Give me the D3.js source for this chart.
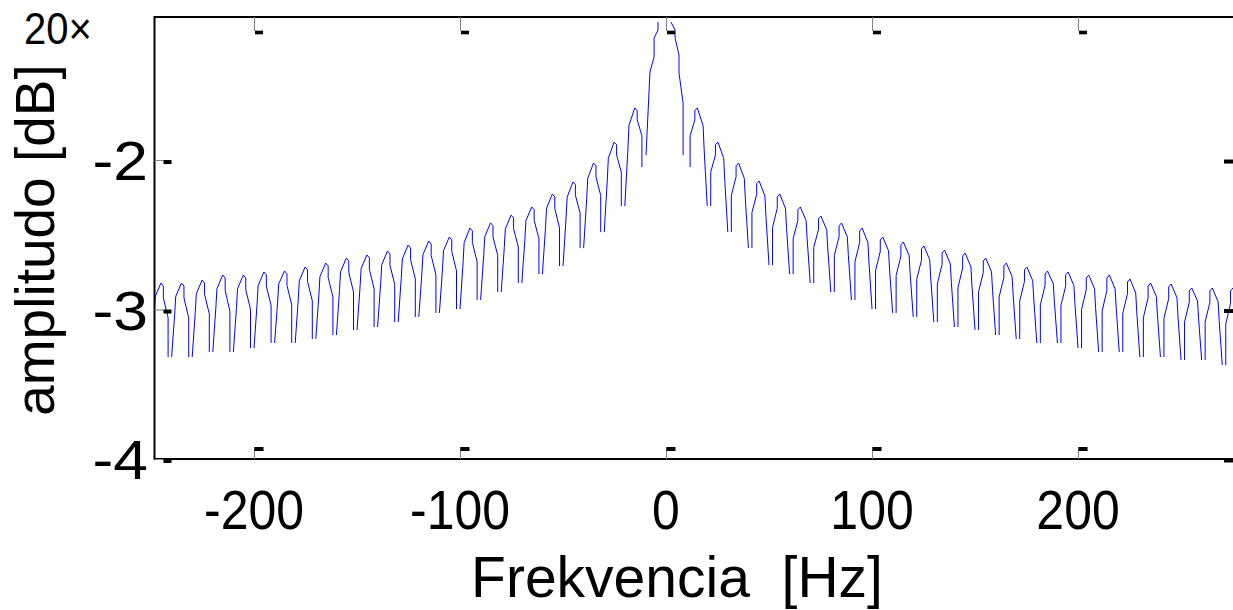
<!DOCTYPE html>
<html>
<head>
<meta charset="utf-8">
<script src="https://cdn.jsdelivr.net/npm/d3@7"></script>
<style>
  body { margin: 0; background: #fff; }
  text { font-family: "Liberation Sans", Arial, sans-serif; fill: #000; }
</style>
</head>
<body>
<div id="chart"></div>
<script>
// Tick values
var xTicks = [-200, -100, 0, 100, 200];
var yTicks = [-4, -3, -2];

// Shape of one comb tooth on the right half: [offset from peak in Hz, fraction trough->peak]
// (the left half uses it mirrored)
var toothShape = [[-2.9, 0], [-2.9, 0.53], [-0.6, 0.8], [-0.6, 0.96], [0.6, 1], [3.4, 0.82], [3.9, 0.58], [5.4, 0]];

// Left half teeth, in x order
var leftPeakFreq = [-244.6, -234.6, -224.6, -214.6, -204.6, -194.6, -184.6, -174.6, -164.6, -154.6, -144.6, -134.6,
                    -124.6, -114.6, -104.6, -94.6, -84.6, -74.6, -64.6, -54.6, -44.6, -34.6, -24.6, -14.6];
var leftPeakDb = [-2.823, -2.823, -2.803, -2.769, -2.769, -2.749, -2.742, -2.716, -2.689, -2.656, -2.635, -2.609,
                  -2.569, -2.542, -2.515, -2.455, -2.421, -2.368, -2.314, -2.227, -2.147, -2.020, -1.880, -1.652];
var leftTroughDb = [-3.338, -3.318, -3.318, -3.284, -3.284, -3.258, -3.224, -3.224, -3.197, -3.171, -3.137, -3.117,
                    -3.084, -3.050, -3.023, -2.997, -2.936, -2.883, -2.823, -2.763, -2.709, -2.589, -2.482, -2.308, -2.047];

// Right half teeth, in x order
var rightPeakFreq = [14.6, 24.6, 34.6, 44.6, 54.6, 64.6, 74.6, 84.6, 94.6, 104.6, 114.6, 124.6, 134.6, 144.6,
                     154.6, 164.6, 174.6, 184.6, 194.6, 204.6, 214.6, 224.6, 234.6, 244.6, 254.6, 264.6, 274.6];
var rightPeakDb = [-1.652, -1.880, -2.020, -2.140, -2.227, -2.314, -2.375, -2.421, -2.455, -2.515, -2.548, -2.575,
                   -2.602, -2.622, -2.656, -2.689, -2.716, -2.742, -2.749, -2.769, -2.769, -2.796, -2.823, -2.829,
                   -2.856, -2.856, -2.856];
var rightTroughDb = [-2.047, -2.308, -2.482, -2.589, -2.703, -2.763, -2.823, -2.883, -2.936, -2.997, -3.023, -3.050,
                     -3.084, -3.117, -3.137, -3.171, -3.197, -3.224, -3.224, -3.258, -3.284, -3.284, -3.318, -3.318,
                     -3.338, -3.338, -3.371, -3.380];

// Central lobe (broken at the top)
var centerFreq = [-9.7, -7.8, -5.8, -5.8, -3.9, -3.9, null, 2.4, 4.4, 4.4, 6.3, 6.3, 8.3, 8.3];
var centerDb = [-1.967, -1.411, -1.311, -1.184, -1.130, -1.077, null, -1.077, -1.130, -1.184, -1.298, -1.418, -1.619, -1.967];

var svgWidth = 1233;
var svgHeight = 610;
var plot = { left: 154.5, right: 1241, top: 17, bottom: 459 };

var svg = d3.select("#chart")
    .append("svg")
    .attr("width", svgWidth)
    .attr("height", svgHeight);

var x = d3.scaleLinear().domain([-248.3, 279.1]).range([plot.left, plot.right]);
var y = d3.scaleLinear().domain([-4, -1.043]).range([plot.bottom, plot.top]);

// Build the comb as one polyline with gaps between teeth
var pts = [];
leftPeakFreq.forEach(function (pf, i) {
  var pk = leftPeakDb[i], lo = leftTroughDb[i], ro = leftTroughDb[i + 1];
  toothShape.slice().reverse().forEach(function (s) {
    var off = -s[0];
    var base = off < 0 ? lo : ro;
    pts.push({ f: pf + off, v: base + s[1] * (pk - base) });
  });
  pts.push({ gap: true });
});
centerFreq.forEach(function (f, i) {
  if (f === null) pts.push({ gap: true });
  else pts.push({ f: f, v: centerDb[i] });
});
pts.push({ gap: true });
rightPeakFreq.forEach(function (pf, i) {
  var pk = rightPeakDb[i], lo = rightTroughDb[i], ro = rightTroughDb[i + 1];
  toothShape.forEach(function (s) {
    var base = s[0] < 0 ? lo : ro;
    pts.push({ f: pf + s[0], v: base + s[1] * (pk - base) });
  });
  pts.push({ gap: true });
});

svg.append("clipPath").attr("id", "clip")
  .append("rect")
  .attr("x", plot.left).attr("y", plot.top)
  .attr("width", plot.right - plot.left).attr("height", plot.bottom - plot.top);

var line = d3.line()
    .defined(d => !d.gap)
    .x(d => x(d.f))
    .y(d => y(d.v));

svg.append("path")
    .datum(pts)
    .attr("clip-path", "url(#clip)")
    .attr("fill", "none")
    .attr("stroke", "#0000ff")
    .attr("stroke-width", 1)
    .attr("d", line);

// Frame (top, left, bottom)
svg.append("path")
    .attr("fill", "none")
    .attr("stroke", "#000")
    .attr("stroke-width", 2)
    .attr("d", `M${plot.right},${plot.top}H${plot.left}V${plot.bottom}H${plot.right}`);

// Ticks: thin grey stem plus a small black block
function styleTicks(g, rx, ry, rw, rh) {
  g.select(".domain").remove();
  g.selectAll(".tick line").attr("stroke", "#808080").attr("stroke-width", 1);
  g.selectAll(".tick").append("rect")
    .attr("x", rx).attr("y", ry).attr("width", rw).attr("height", rh)
    .attr("fill", "#000");
}

svg.append("g")
    .attr("transform", `translate(0, ${plot.bottom})`)
    .call(d3.axisBottom(x).tickValues(xTicks).tickSizeInner(-12).tickSizeOuter(0).tickFormat(""))
    .call(g => styleTicks(g, 0, -12, 9, 4));

svg.append("g")
    .attr("transform", `translate(0, ${plot.top})`)
    .call(d3.axisTop(x).tickValues(xTicks).tickSizeInner(-14).tickSizeOuter(0).tickFormat(""))
    .call(g => styleTicks(g, 0.5, 13.7, 8, 3.6));

svg.append("g")
    .attr("transform", `translate(${plot.left}, 0)`)
    .call(d3.axisLeft(y).tickValues(yTicks).tickSizeInner(-9).tickSizeOuter(0).tickFormat(""))
    .call(g => styleTicks(g, 9, -0.5, 8, 4));

svg.append("g")
    .attr("transform", `translate(${plot.right}, 0)`)
    .call(d3.axisRight(y).tickValues(yTicks).tickSizeInner(-9).tickSizeOuter(0).tickFormat(""))
    .call(g => styleTicks(g, -17, -1, 9, 4));

// Text labels, stretched a little like the source
function label(txt, tx, ty, size, anchor, sx, sy) {
  svg.append("text")
    .attr("transform", `translate(${tx}, ${ty}) scale(${sx}, ${sy})`)
    .attr("text-anchor", anchor)
    .style("font-size", size + "px")
    .text(txt);
}

xTicks.forEach(function (t) {
  label(t, x(t), 529, 50, "middle", 1, 1.12);
});
yTicks.forEach(function (t) {
  label(t, 148, y(t) + 20, 52, "end", 1.2, 1.05);
});

label("20×", 24, 44, 40, "start", 1, 1.12);

svg.append("text")
    .attr("x", 677)
    .attr("y", 597)
    .attr("text-anchor", "middle")
    .style("font-size", "57px")
    .style("white-space", "pre")
    .text("Frekvencia  [Hz]");

svg.append("text")
    .attr("transform", "translate(54, 240) rotate(-90)")
    .attr("text-anchor", "middle")
    .style("font-size", "55px")
    .text("amplitudo [dB]");
</script>
</body>
</html>
